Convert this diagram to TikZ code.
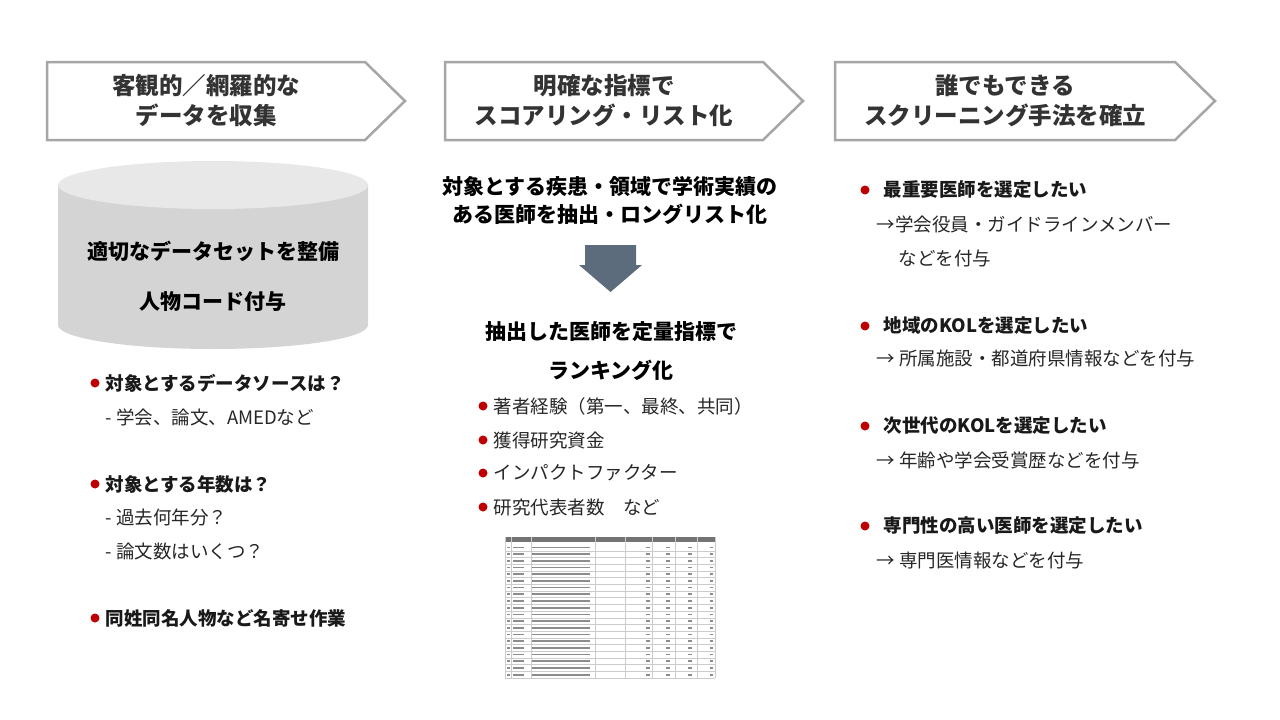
\documentclass[tikz,border=0pt]{standalone}
\usepackage{fontspec}
\setmainfont{Noto Sans CJK JP}
\definecolor{slate}{RGB}{92,108,124}
\begin{document}
\begin{tikzpicture}[x=1pt,y=-1pt,
  hdr/.style={font=\fontsize{23.5}{30}\selectfont\bfseries,text=black!80,align=center},
  bt/.style={font=\fontsize{18.5}{22}\selectfont\bfseries,anchor=west,text=black!90},
  nt/.style={font=\fontsize{18.5}{22}\selectfont,anchor=west,text=black!85},
  bul/.style={circle,fill=red!75!black,inner sep=0pt,minimum size=9pt}]
\useasboundingbox (0,0) rectangle (1280,720);
% chevrons
\foreach \a/\b/\t [count=\i] in {47/405/{客観的／網羅的な\\データを収集},445/803/{明確な指標で\\スコアリング・リスト化},835/1215/{誰でもできる\\スクリーニング手法を確立}}{
  \draw[draw=black!35,line width=2.5pt,fill=white] (\a,62) -- (\b-40,62) -- (\b,101) -- (\b-40,140) -- (\a,140) -- cycle;
  \node[hdr] (h\i) at ({(\a+\b-40)/2},101) {\t};
}
% cylinder
\fill[black!17] (58,185) -- (58,325) arc[start angle=180,end angle=0,x radius=155,y radius=24] -- (368,185) -- cycle;
\fill[black!9] (213,185) ellipse[x radius=155,y radius=24];
\node[font=\fontsize{21}{24}\selectfont\bfseries] (c1) at (213,251) {適切なデータセットを整備};
\node[font=\fontsize{21}{24}\selectfont\bfseries] (c2) at (213,302) {人物コード付与};
% left list
\node[bul] (b1) at (95,383) {}; \node[bt] (l1) at (102,383) {対象とするデータソースは？};
\node[nt] (l2) at (102,417) {- 学会、論文、AMEDなど};
\node[bul] (b2) at (95,484) {}; \node[bt] (l3) at (102,484) {対象とする年数は？};
\node[nt] (l4) at (102,518) {- 過去何年分？};
\node[nt] (l5) at (102,551) {- 論文数はいくつ？};
\node[bul] (b3) at (95,618) {}; \node[bt] (l6) at (102,618) {同姓同名人物など名寄せ作業};
% middle
\node[font=\fontsize{21}{28}\selectfont\bfseries,align=center] (m1) at (610,201) {対象とする疾患・領域で学術実績の\\ある医師を抽出・ロングリスト化};
\fill[slate] (585,245) -- (636,245) -- (636,265) -- (642,265) -- (610.5,292) -- (579,265) -- (585,265) -- cycle;
\node[font=\fontsize{21}{24}\selectfont\bfseries] (m2) at (611,332) {抽出した医師を定量指標で};
\node[font=\fontsize{21}{24}\selectfont\bfseries] (m3) at (611,370) {ランキング化};
\foreach \y/\t in {406/{著者経験（第一、最終、共同）},440/{獲得研究資金},473/{インパクトファクター},507/{研究代表者数　など}}{
  \node[bul] at (483,\y) {}; \node[nt] at (490,\y) {\t};
}
% table
\fill[black!55] (505,537) rectangle (715,542);
\foreach \k in {0,...,19}{
  \pgfmathsetmacro\yy{544+\k*6.7}
  \draw[black!20,line width=0.3pt] (505,\yy+6.7) -- (715,\yy+6.7);
  \fill[black!45] (507,\yy+2.5) rectangle (510,\yy+4.2);
  \fill[black!45] (513,\yy+2.5) rectangle (524,\yy+4.2);
  \fill[black!45] (532,\yy+2.5) rectangle (590,\yy+4.2);
  \fill[black!45] (646,\yy+2.5) rectangle (650,\yy+4.2);
  \fill[black!45] (666,\yy+2.5) rectangle (670,\yy+4.2);
  \fill[black!45] (688,\yy+2.5) rectangle (692,\yy+4.2);
  \fill[black!45] (710,\yy+2.5) rectangle (713,\yy+4.2);
}
\foreach \x in {505,511,531,595,625,652,675,697,715} \draw[black!20,line width=0.3pt] (\x,537) -- (\x,678);
% right
\node[bul] at (865,190) {}; \node[bt] (r1) at (880,190) {最重要医師を選定したい};
\node[nt] (r2) at (873,224) {→学会役員・ガイドラインメンバー};
\node[nt] (r3) at (895,258) {などを付与};
\node[bul] at (865,326) {}; \node[bt] (r4) at (880,326) {地域のKOLを選定したい};
\node[nt] (r5) at (873,358) {→ 所属施設・都道府県情報などを付与};
\node[bul] at (865,426) {}; \node[bt] (r6) at (880,426) {次世代のKOLを選定したい};
\node[nt] (r7) at (873,460) {→ 年齢や学会受賞歴などを付与};
\node[bul] at (865,526) {}; \node[bt] (r8) at (880,526) {専門性の高い医師を選定したい};
\node[nt] (r9) at (873,560) {→ 専門医情報などを付与};
\end{tikzpicture}
\end{document}
